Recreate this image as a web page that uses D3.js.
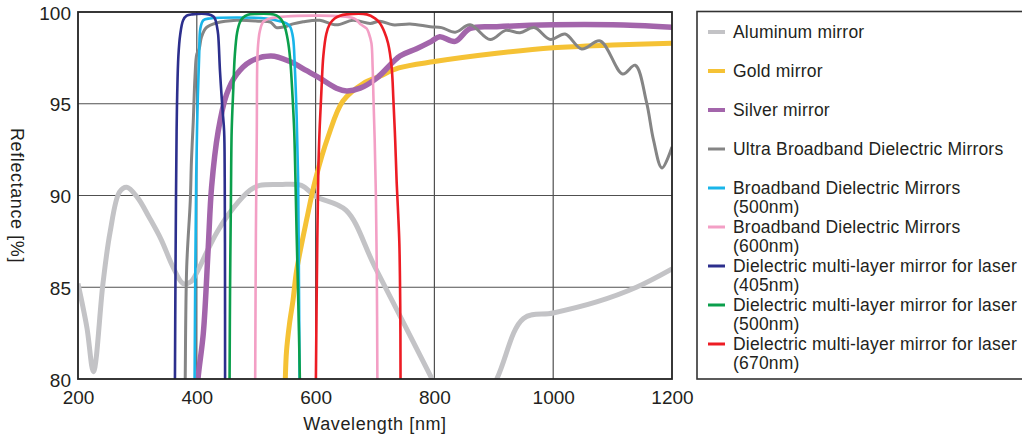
<!DOCTYPE html>
<html><head><meta charset="utf-8">
<script src="https://cdn.jsdelivr.net/npm/d3@7"></script>
<style>
body{margin:0;background:#fff;}
svg{display:block;}
text{font-family:"Liberation Sans",Arial,Helvetica,sans-serif;fill:#231f20;}
</style>
</head><body>
<svg id="chart" width="1022" height="437"></svg>
<script>
// ---- data ----
const xTicks = [200, 400, 600, 800, 1000, 1200];
const yTicks = [80, 85, 90, 95, 100];
const xTitle = "Wavelength [nm]";
const yTitle = "Reflectance [%]";

const seriesLabels = [
  ["Aluminum mirror"],
  ["Gold mirror"],
  ["Silver mirror"],
  ["Ultra Broadband Dielectric Mirrors"],
  ["Broadband Dielectric Mirrors", "(500nm)"],
  ["Broadband Dielectric Mirrors", "(600nm)"],
  ["Dielectric multi-layer mirror for laser", "(405nm)"],
  ["Dielectric multi-layer mirror for laser", "(500nm)"],
  ["Dielectric multi-layer mirror for laser", "(670nm)"]
];
const seriesColors = ["#c3c3c6", "#f5c235", "#a365ab", "#858585", "#19b5e9", "#f39fc5", "#2c2f8d", "#0b9f4c", "#ed1c24"];
const seriesWidths = [5, 5, 5.5, 3, 2.6, 2.6, 2.6, 2.6, 2.6];

const aluminum = [[200,85.2],[215,82.8],[226,80.4],[242,85.2],[254,88.0],[270,90.2],[282,90.45],[300,89.9],[320,88.8],[340,87.6],[360,86.1],[377,85.2],[390,85.3],[400,85.8],[415,86.8],[434,88.0],[461,89.3],[490,90.3],[506,90.55],[540,90.6],[576,90.55],[600,89.95],[651,89.2],[700,86.1],[796,80.0],[850,76.5],[905,80.0],[950,83.3],[1000,83.6],[1073,84.2],[1140,85.0],[1200,86.0]];
const gold = [[548,78.5],[549,80],[551,81.5],[556,83.0],[562,84.3],[568,85.9],[585,88.7],[600,90.9],[621,93.2],[646,95.15],[680,96.1],[708,96.5],[740,96.95],[800,97.3],[905,97.75],[1000,98.05],[1100,98.2],[1200,98.3]];
const silver = [[400,78.5],[402,80],[411,82.5],[419,87.0],[425,90.5],[436,93.5],[450,95.5],[467,96.6],[490,97.3],[525,97.6],[557,97.3],[585,96.8],[607,96.4],[635,95.85],[652,95.7],[675,95.85],[703,96.4],[742,97.6],[770,98.0],[795,98.4],[809,98.65],[835,98.4],[860,99.1],[905,99.2],[1000,99.3],[1100,99.3],[1200,99.17]];
const ultraBroadband = [[380,78.5],[380.5,80],[383,86.1],[389,89.7],[391,91.9],[394,94.0],[397,96.5],[400,97.7],[404,98.0],[408,98.65],[416,99.15],[433,99.4],[467,99.55],[506,99.5],[524,99.45],[534,99.15],[548,99.2],[562,99.35],[579,99.47],[607,99.55],[635,99.3],[663,99.55],[692,99.38],[708,99.5],[730,99.3],[759,99.35],[793,99.2],[812,99.15],[835,98.9],[860,99.3],[894,98.5],[920,99.0],[944,98.87],[968,99.15],[995,98.5],[1020,98.8],[1048,97.98],[1079,98.42],[1117,96.62],[1138,97.1],[1157,95.1],[1169,93.0],[1183,91.5],[1200,92.65]];
const broadband500 = [[396,78.5],[396.3,80],[397.5,86],[399,91],[401,94.5],[404,97.65],[406,99.1],[411,99.55],[422,99.65],[517,99.65],[540,99.5],[551,99.38],[557,99.2],[562,98.6],[565,97.0],[568,94.4],[570.5,91],[572,85],[573,80],[573.2,78.5]];
const broadband600 = [[498,78.5],[498.3,80],[499.5,88],[501,93.5],[502,97.5],[504,98.5],[506.4,99.0],[512,99.47],[523,99.65],[665,99.65],[675,99.35],[686,99.1],[690,98.8],[694,98.3],[696,97.0],[697.5,95.2],[699.5,93],[701.5,90],[703,86],[704,80],[704.2,78.5]];
const laser405 = [[363,78.5],[363.2,80],[364,85],[365,90],[366,93.5],[367,95.5],[369,97.6],[372,98.75],[377,99.55],[383,99.8],[392,99.87],[420,99.87],[428,99.75],[431,99.6],[434,99.2],[436,98.75],[439,96.8],[443,94.8],[446,93.5],[447,91],[447.5,85],[447.6,80],[447.7,78.5]];
const laser500 = [[455,78.5],[455.2,80],[456,85],[457.5,90],[458.7,93.5],[461.5,95.85],[464,97.65],[468,98.9],[473,99.47],[478,99.7],[486,99.85],[500,99.9],[522,99.9],[534,99.82],[542,99.6],[548,99.2],[553,98.5],[557,97.5],[561,95.5],[564,93.5],[566,91],[568,88],[571,84],[573.5,80],[573.8,78.5]];
const laser670 = [[600.3,78.5],[600.5,80],[602,85],[604.6,91.4],[607,93.8],[610,95.85],[613,97.6],[618,98.8],[624,99.35],[632,99.65],[641,99.8],[652,99.87],[686,99.87],[700,99.65],[708,99.4],[716,98.9],[722,98.3],[728,97.0],[731,95.2],[734,93.0],[736.5,90.7],[739,89.0],[741,87.4],[742.5,84],[743,80],[743.1,78.5]];

const allSeries = [aluminum, gold, silver, ultraBroadband, broadband500, broadband600, laser405, laser500, laser670];

// ---- layout ----
const svg = d3.select("#chart");
const plot = {left: 78, right: 672, top: 12, bottom: 379};
const x = d3.scaleLinear().domain([200, 1200]).range([plot.left, plot.right]);
const y = d3.scaleLinear().domain([80, 100]).range([plot.bottom, plot.top]);

// grid
const grid = svg.append("g");
grid.selectAll("line.v").data(xTicks.slice(1, -1)).enter().append("line")
  .attr("x1", d => x(d)).attr("x2", d => x(d))
  .attr("y1", plot.top).attr("y2", plot.bottom)
  .attr("stroke", "#505050").attr("stroke-width", 1.2);
grid.selectAll("line.h").data(yTicks.slice(1, -1)).enter().append("line")
  .attr("x1", plot.left).attr("x2", plot.right)
  .attr("y1", d => y(d)).attr("y2", d => y(d))
  .attr("stroke", "#505050").attr("stroke-width", 1.2);

// clip
svg.append("defs").append("clipPath").attr("id", "clip")
  .append("rect").attr("x", plot.left).attr("y", plot.top - 3)
  .attr("width", plot.right - plot.left).attr("height", plot.bottom - plot.top + 3);

const line = d3.line().x(d => x(d[0])).y(d => y(d[1])).curve(d3.curveCatmullRom.alpha(0.5));
const curves = svg.append("g").attr("clip-path", "url(#clip)");
allSeries.forEach((s, i) => {
  curves.append("path").datum(s)
    .attr("d", line)
    .attr("fill", "none")
    .attr("stroke", seriesColors[i])
    .attr("stroke-width", seriesWidths[i])
    .attr("stroke-linejoin", "round");
});

// frame
svg.append("rect").attr("x", plot.left).attr("y", plot.top)
  .attr("width", plot.right - plot.left).attr("height", plot.bottom - plot.top)
  .attr("fill", "none").attr("stroke", "#222").attr("stroke-width", 1.8);

// axes
const xAxis = d3.axisBottom(x).tickValues(xTicks).tickSize(0).tickPadding(12).tickFormat(d3.format("d"));
const gx = svg.append("g").attr("transform", `translate(0,${plot.bottom})`).call(xAxis);
gx.select(".domain").remove();
gx.selectAll("text").style("font-size", "19px").attr("fill", "#231f20")
  .style("font-family", '"Liberation Sans",Arial,sans-serif');

const yAxis = d3.axisLeft(y).tickValues(yTicks).tickSize(0).tickPadding(7).tickFormat(d3.format("d"));
const gy = svg.append("g").attr("transform", `translate(${plot.left},0)`).call(yAxis);
gy.select(".domain").remove();
gy.selectAll("text").style("font-size", "19px").attr("fill", "#231f20").attr("dy", "0.37em")
  .style("font-family", '"Liberation Sans",Arial,sans-serif');

svg.append("text").attr("x", (plot.left + plot.right) / 2).attr("y", 430)
  .attr("text-anchor", "middle").style("font-size", "18px").style("letter-spacing", "0.6px").text(xTitle);
svg.append("text").attr("transform", `translate(11,${(plot.top + plot.bottom) / 2}) rotate(90)`)
  .attr("text-anchor", "middle").style("font-size", "18px").style("letter-spacing", "0.6px").text(yTitle);

// legend
const lg = svg.append("g");
lg.append("rect").attr("x", 697).attr("y", 11.5).attr("width", 340).attr("height", 367.5)
  .attr("fill", "#fff").attr("stroke", "#333").attr("stroke-width", 1.6);
seriesLabels.forEach((lab, i) => {
  const cy = 32 + 39 * i;
  lg.append("line").attr("x1", 708).attr("x2", 725).attr("y1", cy).attr("y2", cy)
    .attr("stroke", seriesColors[i]).attr("stroke-width", i < 3 ? 4 : 3);
  lab.forEach((t, j) => {
    lg.append("text").attr("x", 733).attr("y", cy + 6 + 19 * j)
      .style("font-size", "17.5px").style("letter-spacing", "0.2px").text(t);
  });
});
</script>
</body></html>
